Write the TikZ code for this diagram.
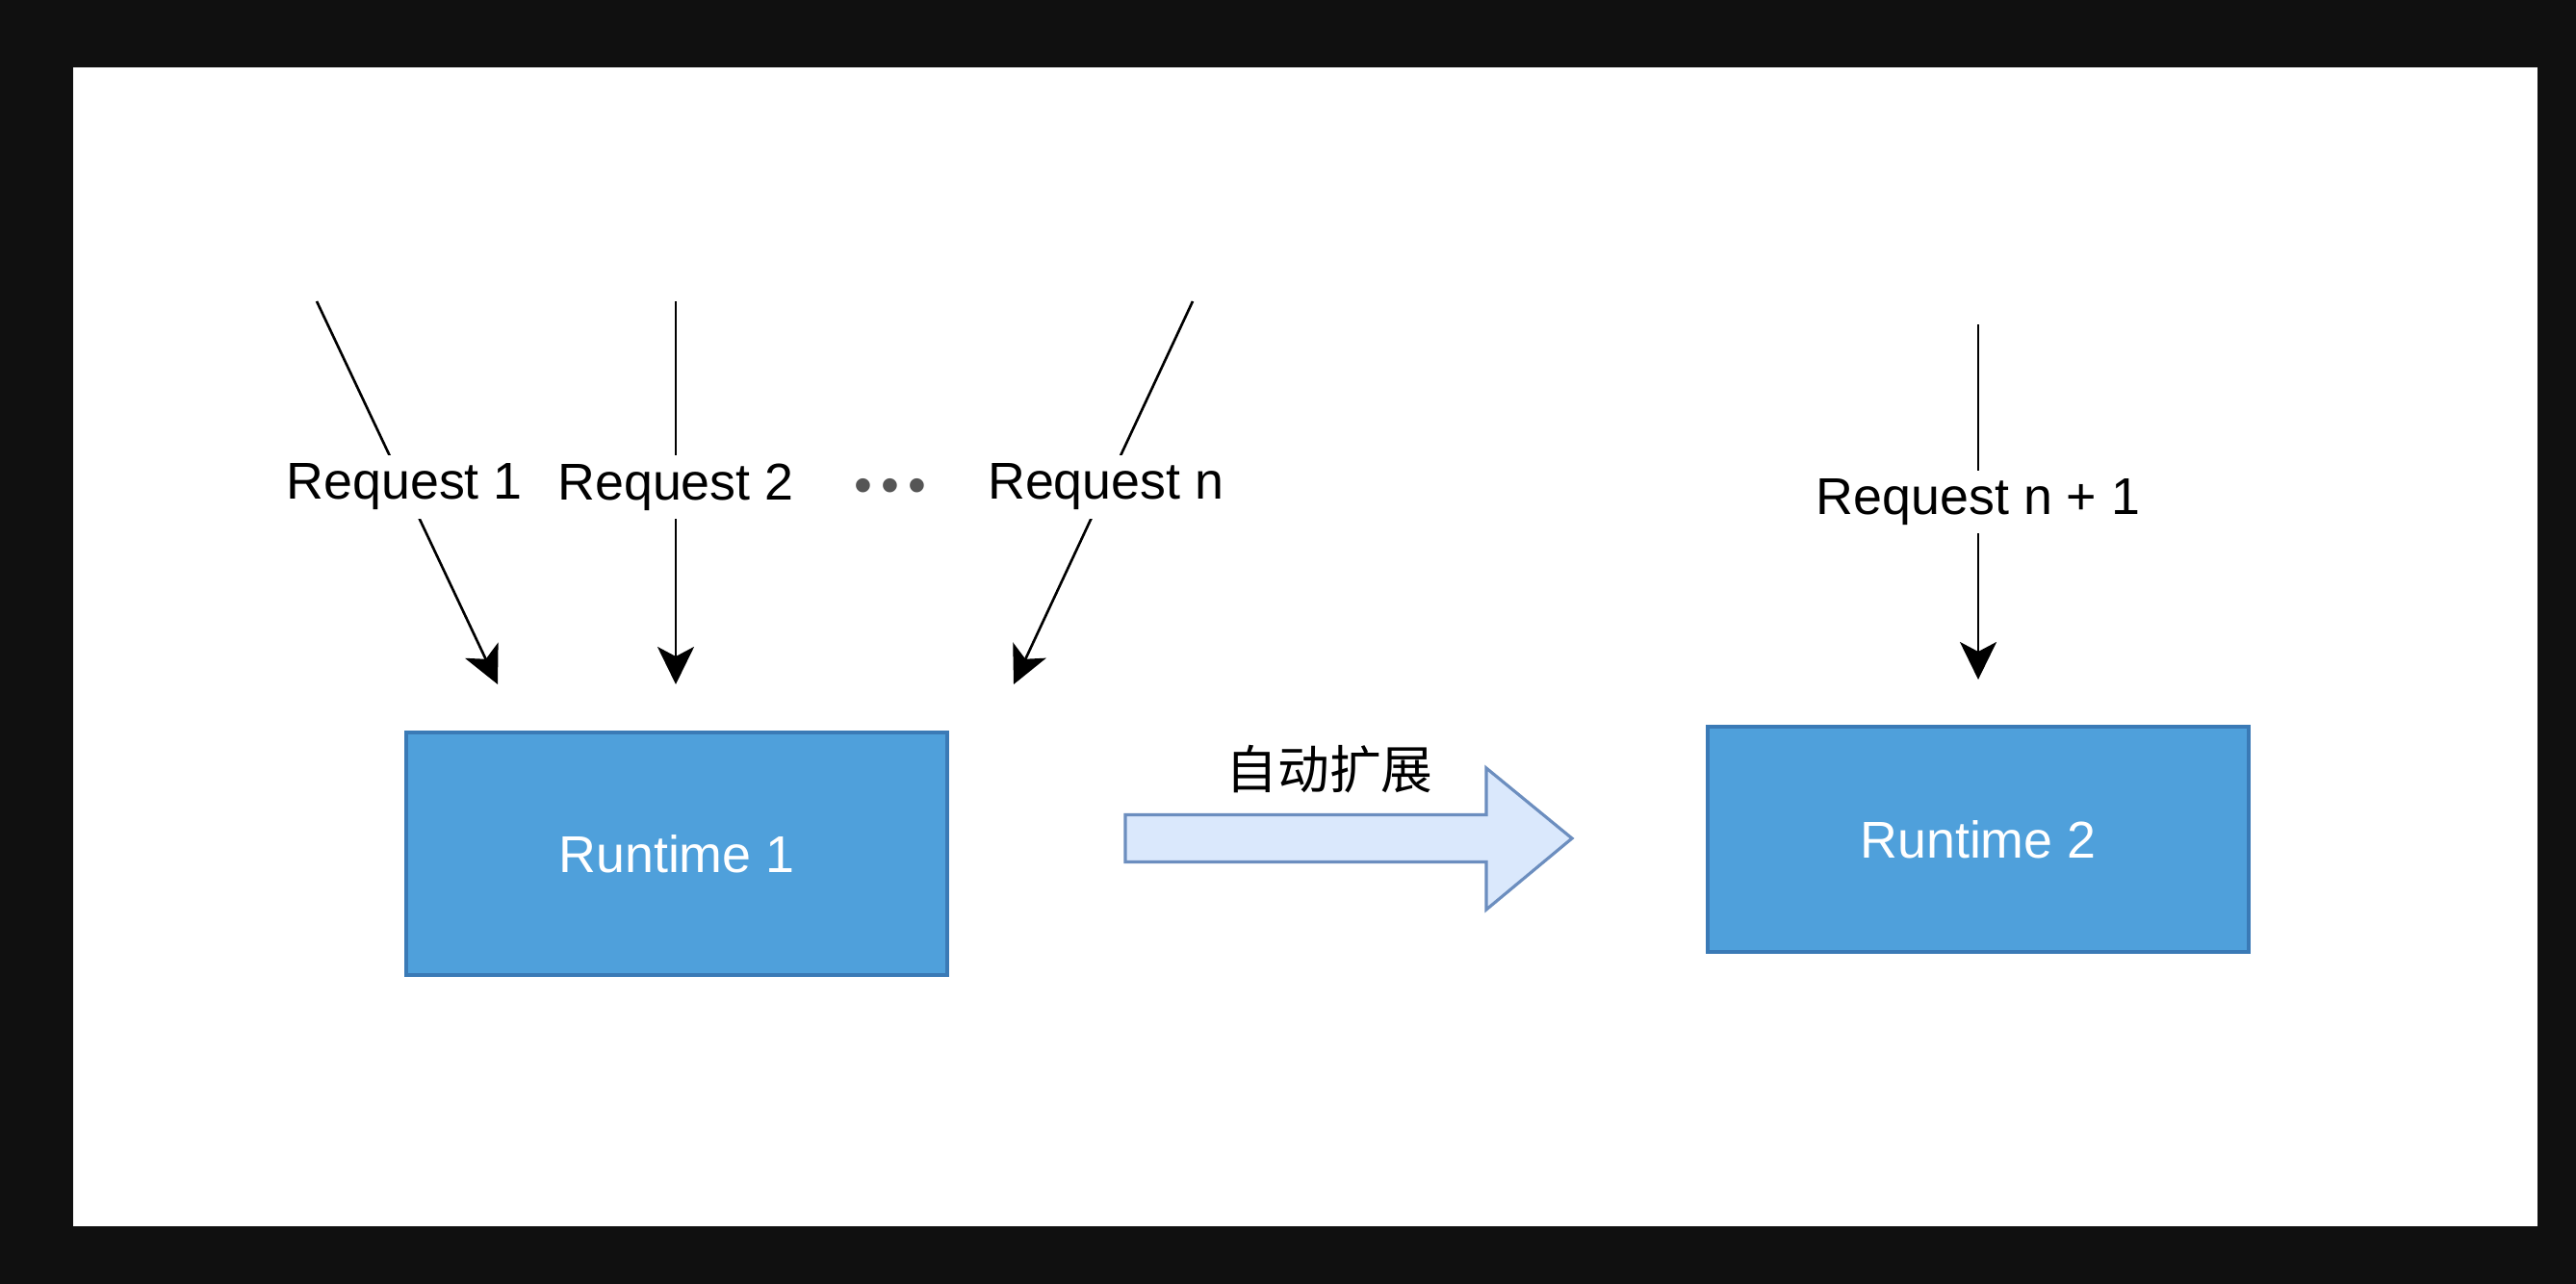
\documentclass[tikz,border=0pt]{standalone}
\usepackage{fontspec}
\setmainfont{Liberation Sans}
\newfontfamily\cjk{Noto Sans CJK SC}
\usepackage{tikz}
\usetikzlibrary{arrows.meta}
\definecolor{frame}{RGB}{16,16,16}
\definecolor{boxblue}{RGB}{79,160,219}
\definecolor{boxedge}{RGB}{58,122,182}
\definecolor{fatfill}{RGB}{218,232,252}
\definecolor{fatedge}{RGB}{108,142,191}
\definecolor{dotgray}{RGB}{85,85,85}

\begin{document}
\begin{tikzpicture}[
  font=\fontsize{15.3pt}{18pt}\selectfont,
  box/.style={rectangle, draw=boxedge, line width=0.9pt, fill=boxblue,
              minimum width=5.62cm, minimum height=2.52cm, text=white,
              inner sep=0pt},
  req/.style={-{Stealth[length=0.39cm, width=0.38cm, inset=0.1cm]},
              line width=0.75pt},
  lbl/.style={fill=white, inner sep=2.5pt},
  fat/.style={draw=fatedge, line width=0.9pt, fill=fatfill}
]

\fill[frame] (0,0) rectangle (26.76,-13.34);
\fill[white] (0.76,-0.70) rectangle (26.36,-12.74);

\node[box] (rt1) at (7.03,-8.87) {Runtime 1};
\node[box, minimum height=2.34cm] (rt2) at (20.55,-8.72) {Runtime 2};

\coordinate (s1) at (3.29,-3.13);
\coordinate (e1) at (5.17,-7.11);
\coordinate (s2) at (7.02,-3.13);
\coordinate (e2) at (7.02,-7.11);
\coordinate (sn) at (12.39,-3.13);
\coordinate (en) at (10.53,-7.11);
\coordinate (sm) at (20.55,-3.37);
\coordinate (em) at (20.55,-7.06);

\draw[req] (s1) -- node[lbl, pos=0.485] (q1) {Request 1} (e1);
\draw[req] (s2) -- node[lbl, pos=0.485] (q2) {Request 2} (e2);
\draw[req] (sn) -- node[lbl, pos=0.485] (qn) {Request n} (en);
\draw[req] (sm) -- node[lbl, pos=0.5] (qm) {Request n + 1} (em);

\node[text=dotgray] (dots) at (9.25,-5.10) {•\hspace{2.5pt}•\hspace{2.5pt}•};

\coordinate (fa) at (11.69,-8.71);
\draw[fat] (fa) ++(0,0.245) -- ++(3.75,0) -- ++(0,0.485) -- ++(0.89,-0.73)
  -- ++(-0.89,-0.74) -- ++(0,0.495) -- ++(-3.75,0) -- cycle;
\node (grow) at (13.81,-7.99) {\cjk 自动扩展};

\end{tikzpicture}
\end{document}
